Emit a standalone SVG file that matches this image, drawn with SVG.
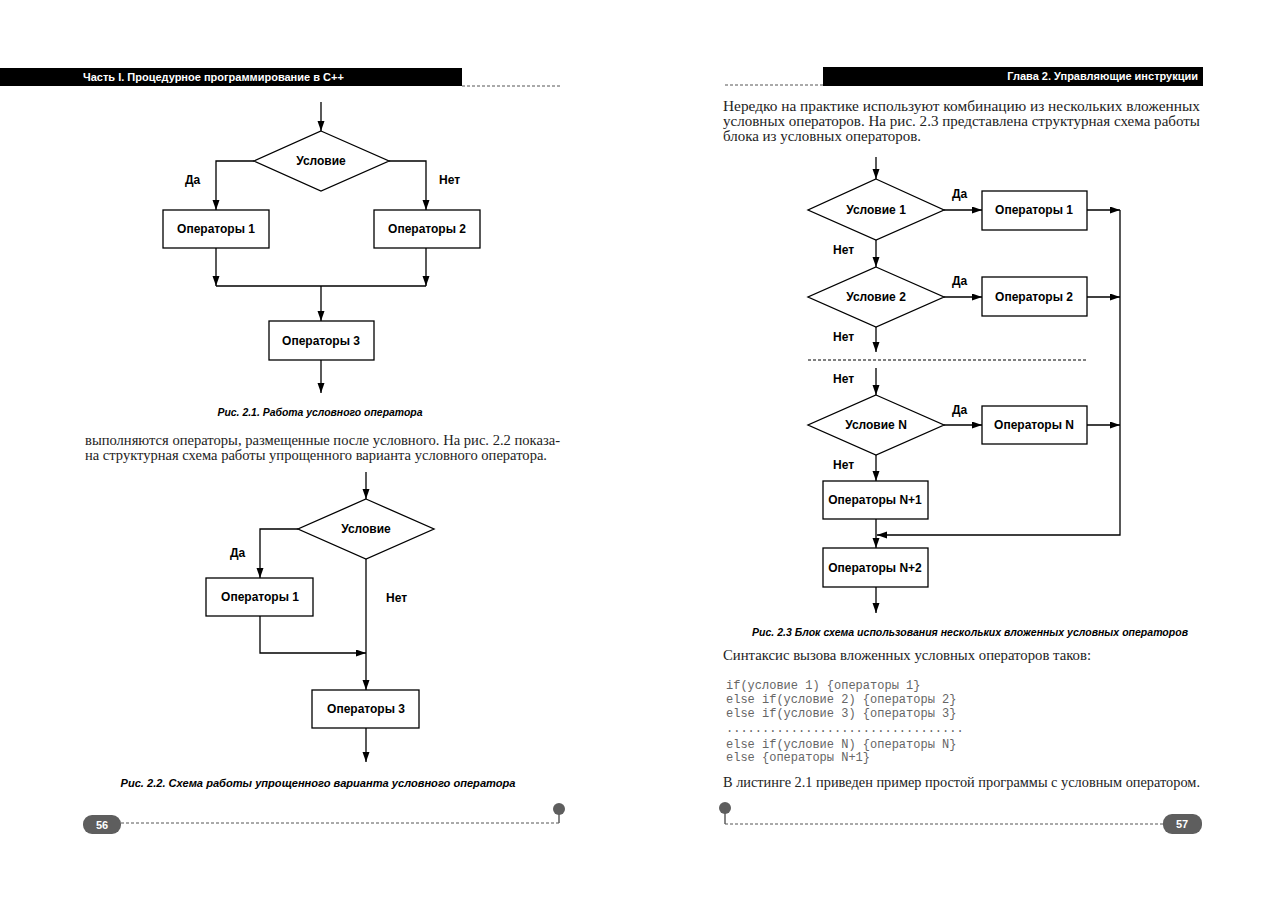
<svg xmlns="http://www.w3.org/2000/svg" width="1285" height="907" viewBox="0 0 1285 907">
<style>
.ln{fill:none;stroke:#000;stroke-width:1.3}
.bx{fill:#fff;stroke:#000;stroke-width:1.3}
.lb{font-family:"Liberation Sans",Arial,sans-serif;font-weight:bold;font-size:12px;fill:#000}
.c{text-anchor:middle}
.cap{font-family:"Liberation Sans",Arial,sans-serif;font-weight:bold;font-style:italic;font-size:10.5px;fill:#000;text-anchor:middle}
.tx{font-family:"Liberation Serif","Times New Roman",serif;font-size:14px;fill:#222}
.code{font-family:"Liberation Mono","Courier New",monospace;font-size:12px;fill:#666}
.hd{font-family:"Liberation Sans",Arial,sans-serif;font-weight:bold;font-size:11px;fill:#fff}
.dash{fill:none;stroke:#555;stroke-width:1;stroke-dasharray:3,2}
.pill{fill:#5e5e5e}
.pn{font-family:"Liberation Sans",Arial,sans-serif;font-weight:bold;font-size:11px;fill:#fff;text-anchor:middle}
</style>
<defs>
<marker id="ah" markerUnits="userSpaceOnUse" markerWidth="11" markerHeight="8" refX="10" refY="3.5" orient="auto">
<path d="M0,0 L10,3.5 L0,7 z" fill="#000"/>
</marker>
</defs>
<rect width="1285" height="907" fill="#fff"/>

<g id="page-left-header">
<rect x="0" y="68" width="462" height="18" fill="#000"/>
<text class="hd" x="83" y="81">Часть I. Процедурное программирование в C++</text>
<line class="dash" x1="462" y1="86" x2="560" y2="86"/>
</g>
<g id="page-right-header">
<line class="dash" x1="725" y1="85" x2="823" y2="85"/>
<rect x="823" y="67" width="380" height="19" fill="#000"/>
<text class="hd" x="1198" y="80" text-anchor="end">Глава 2. Управляющие инструкции</text>
</g>

<!-- Figure 2.1 -->
<g id="fig21-connectors">
<path class="ln" d="M321,102 V131" marker-end="url(#ah)"/>
<path class="ln" d="M254,161 H216 V210" marker-end="url(#ah)"/>
<path class="ln" d="M389,161 H426 V210" marker-end="url(#ah)"/>
<path class="ln" d="M216,248 V286" marker-end="url(#ah)"/>
<path class="ln" d="M426,248 V286" marker-end="url(#ah)"/>
<path class="ln" d="M216,286 H426"/>
<path class="ln" d="M321,286 V321" marker-end="url(#ah)"/>
<path class="ln" d="M321,360 V393" marker-end="url(#ah)"/>
<text class="lb" x="185" y="184">Да</text>
<text class="lb" x="439" y="184">Нет</text>
</g>
<g id="fig21-cond"><polygon class="bx" points="321,131 389,161 321,191 254,161"/><text class="lb c" x="321" y="165">Условие</text></g>
<g id="fig21-op1"><rect class="bx" x="163" y="210" width="106" height="38"/><text class="lb c" x="216" y="233">Операторы 1</text></g>
<g id="fig21-op2"><rect class="bx" x="374" y="210" width="106" height="38"/><text class="lb c" x="427" y="233">Операторы 2</text></g>
<g id="fig21-op3"><rect class="bx" x="269" y="321" width="105" height="39"/><text class="lb c" x="321" y="345">Операторы 3</text></g>
<text class="cap" x="320" y="416" textLength="205" lengthAdjust="spacingAndGlyphs">Рис. 2.1. Работа условного оператора</text>

<text class="tx" x="85" y="445" textLength="475" lengthAdjust="spacingAndGlyphs">выполняются операторы, размещенные после условного. На рис. 2.2 показа-</text>
<text class="tx" x="85" y="460" textLength="462" lengthAdjust="spacingAndGlyphs">на структурная схема работы упрощенного варианта условного оператора.</text>

<!-- Figure 2.2 -->
<g id="fig22-connectors">
<path class="ln" d="M366,472 V499" marker-end="url(#ah)"/>
<path class="ln" d="M298,529 H260 V578" marker-end="url(#ah)"/>
<path class="ln" d="M260,616 V653 H366" marker-end="url(#ah)"/>
<path class="ln" d="M366,559 V690" marker-end="url(#ah)"/>
<path class="ln" d="M366,728 V762" marker-end="url(#ah)"/>
<text class="lb" x="230" y="557">Да</text>
<text class="lb" x="386" y="602">Нет</text>
</g>
<g id="fig22-cond"><polygon class="bx" points="366,499 434,529 366,559 298,529"/><text class="lb c" x="366" y="533">Условие</text></g>
<g id="fig22-op1"><rect class="bx" x="206" y="578" width="107" height="38"/><text class="lb c" x="260" y="601">Операторы 1</text></g>
<g id="fig22-op3"><rect class="bx" x="312" y="690" width="107" height="38"/><text class="lb c" x="366" y="713">Операторы 3</text></g>
<text class="cap" x="318" y="787" textLength="395" lengthAdjust="spacingAndGlyphs">Рис. 2.2. Схема работы упрощенного варианта условного оператора</text>

<g id="page-left-footer">
<rect class="pill" x="83" y="815" width="38" height="19" rx="9"/>
<text class="pn" x="102" y="829">56</text>
<line class="dash" x1="121" y1="823" x2="559" y2="823"/>
<line x1="559" y1="809" x2="559" y2="823" stroke="#5e5e5e" stroke-width="1.5"/>
<circle cx="559" cy="809" r="6" fill="#5e5e5e"/>
</g>

<!-- Right page text -->
<text class="tx" x="723" y="111" textLength="477" lengthAdjust="spacingAndGlyphs">Нередко на практике используют комбинацию из нескольких вложенных</text>
<text class="tx" x="723" y="126" textLength="477" lengthAdjust="spacingAndGlyphs">условных операторов. На рис. 2.3 представлена структурная схема работы</text>
<text class="tx" x="723" y="141" textLength="198" lengthAdjust="spacingAndGlyphs">блока из условных операторов.</text>

<!-- Figure 2.3 -->
<g id="fig23-connectors">
<path class="ln" d="M876,157 V179" marker-end="url(#ah)"/>
<path class="ln" d="M944,210 H982" marker-end="url(#ah)"/>
<path class="ln" d="M1087,210 H1120" marker-end="url(#ah)"/>
<path class="ln" d="M876,240 V267" marker-end="url(#ah)"/>
<path class="ln" d="M944,297 H982" marker-end="url(#ah)"/>
<path class="ln" d="M1087,297 H1120" marker-end="url(#ah)"/>
<path class="ln" d="M876,327 V352" marker-end="url(#ah)"/>
<line x1="808" y1="360" x2="1088" y2="360" stroke="#000" stroke-width="1" stroke-dasharray="3,2"/>
<path class="ln" d="M876,368 V395" marker-end="url(#ah)"/>
<path class="ln" d="M944,425 H982" marker-end="url(#ah)"/>
<path class="ln" d="M1087,425 H1120" marker-end="url(#ah)"/>
<path class="ln" d="M876,455 V481" marker-end="url(#ah)"/>
<path class="ln" d="M876,519 V548" marker-end="url(#ah)"/>
<path class="ln" d="M1120,210 V535 H877" marker-end="url(#ah)"/>
<path class="ln" d="M876,587 V613" marker-end="url(#ah)"/>
<text class="lb" x="952" y="198">Да</text>
<text class="lb" x="833" y="254">Нет</text>
<text class="lb" x="952" y="285">Да</text>
<text class="lb" x="833" y="341">Нет</text>
<text class="lb" x="833" y="383">Нет</text>
<text class="lb" x="952" y="414">Да</text>
<text class="lb" x="833" y="469">Нет</text>
</g>
<g id="fig23-cond1"><polygon class="bx" points="876,179 944,210 876,240 808,210"/><text class="lb c" x="876" y="214">Условие 1</text></g>
<g id="fig23-op1"><rect class="bx" x="982" y="191" width="105" height="39"/><text class="lb c" x="1034" y="214">Операторы 1</text></g>
<g id="fig23-cond2"><polygon class="bx" points="876,267 944,297 876,327 808,297"/><text class="lb c" x="876" y="301">Условие 2</text></g>
<g id="fig23-op2"><rect class="bx" x="982" y="277" width="105" height="39"/><text class="lb c" x="1034" y="301">Операторы 2</text></g>
<g id="fig23-condN"><polygon class="bx" points="876,395 944,425 876,455 808,425"/><text class="lb c" x="876" y="429">Условие N</text></g>
<g id="fig23-opN"><rect class="bx" x="982" y="406" width="105" height="38"/><text class="lb c" x="1034" y="429">Операторы N</text></g>
<g id="fig23-opN1"><rect class="bx" x="823" y="481" width="105" height="38"/><text class="lb c" x="875" y="504">Операторы N+1</text></g>
<g id="fig23-opN2"><rect class="bx" x="823" y="548" width="105" height="39"/><text class="lb c" x="875" y="572">Операторы N+2</text></g>
<text class="cap" x="970" y="636" textLength="436" lengthAdjust="spacingAndGlyphs">Рис. 2.3 Блок схема использования нескольких вложенных условных операторов</text>

<text class="tx" x="723" y="660" textLength="368" lengthAdjust="spacingAndGlyphs">Синтаксис вызова вложенных условных операторов таков:</text>
<g id="code">
<text class="code" x="726" y="689">if(условие 1) {операторы 1}</text>
<text class="code" x="726" y="703">else if(условие 2) {операторы 2}</text>
<text class="code" x="726" y="717">else if(условие 3) {операторы 3}</text>
<text class="code" x="726" y="732">.................................</text>
<text class="code" x="726" y="748">else if(условие N) {операторы N}</text>
<text class="code" x="726" y="761">else {операторы N+1}</text>
</g>
<text class="tx" x="723" y="787" textLength="477" lengthAdjust="spacingAndGlyphs">В листинге 2.1 приведен пример простой программы с условным оператором.</text>

<g id="page-right-footer">
<circle cx="725" cy="808" r="6" fill="#5e5e5e"/>
<line x1="725" y1="808" x2="725" y2="824" stroke="#5e5e5e" stroke-width="1.5"/>
<line class="dash" x1="725" y1="824" x2="1163" y2="824"/>
<rect class="pill" x="1163" y="814" width="39" height="20" rx="9"/>
<text class="pn" x="1182" y="828">57</text>
</g>
</svg>
